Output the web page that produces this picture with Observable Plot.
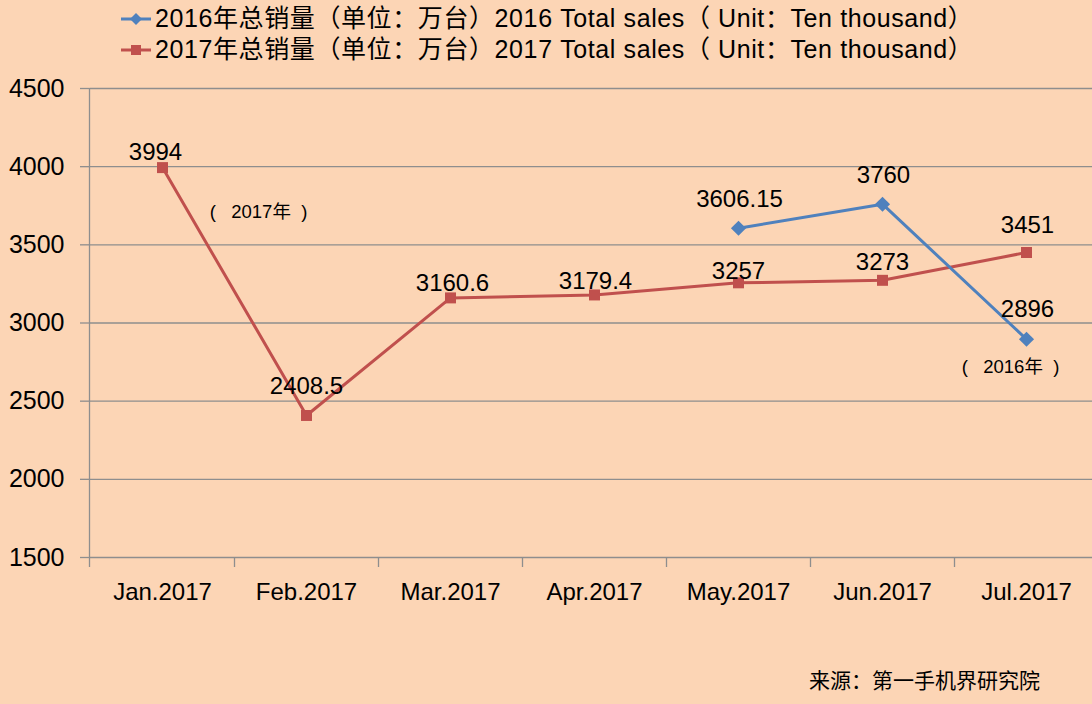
<!DOCTYPE html>
<html>
<head>
<meta charset="utf-8">
<script src="https://cdn.jsdelivr.net/npm/d3@7"></script>
<script src="https://cdn.jsdelivr.net/npm/@observablehq/plot@0.6"></script>
<style>
  html, body { margin: 0; padding: 0; background: #FCD5B5; }
  #wrap { position: relative; width: 1092px; height: 704px; overflow: hidden; background: #FCD5B5;
          font-family: "Liberation Sans", "Noto Sans CJK SC", sans-serif; color: #000; }
  #legend { position: absolute; left: 120px; top: 3px; font-size: 25px; line-height: 31px; letter-spacing: 0.6px; }
  .row { display: flex; align-items: center; white-space: nowrap; }
  .row svg { margin-right: 3px; }
  #caption { position: absolute; right: 52px; top: 664px; font-size: 21px; font-family: "Noto Sans CJK SC", sans-serif; }
  #chart { position: absolute; left: 0; top: 0; }
</style>
</head>
<body>
<div id="wrap">
  <div id="chart"></div>
  <div id="legend"></div>
  <div id="caption"></div>
</div>
<script>
// ---- data ----
const months = ["Jan.2017", "Feb.2017", "Mar.2017", "Apr.2017", "May.2017", "Jun.2017", "Jul.2017"];
const sales2017 = [3994, 2408.5, 3160.6, 3179.4, 3257, 3273, 3451];
const months2016 = ["May.2017", "Jun.2017", "Jul.2017"];
const sales2016 = [3606.15, 3760, 2896];
const yTicks = [1500, 2000, 2500, 3000, 3500, 4000, 4500];
const seriesNames = [
  "2016年总销量（单位：万台）2016 Total sales（ Unit：Ten thousand）",
  "2017年总销量（单位：万台）2017 Total sales（ Unit：Ten thousand）"
];
const annotationText = ["(   2017年  )", "(   2016年  )"];
const annotationMonth = ["Feb.2017", "Jul.2017"];
const annotationValue = [3707, 2715];
const captionText = "来源：第一手机界研究院";

// ---- styling / layout (not data) ----
const blue = "#4F81BD", red = "#C0504D", grid = "#8E8E8E";
const font = "'Liberation Sans', 'Noto Sans CJK SC', sans-serif";

const d2017 = months.map((m, i) => ({month: m, value: sales2017[i]}));
const d2016 = months2016.map((m, i) => ({month: m, value: sales2016[i]}));
const ann = annotationText.map((t, i) => ({text: t, month: annotationMonth[i], value: annotationValue[i]}));

// per-label nudges (pixels)
const dy2017 = [-15, -29, -15, -14, -12, -18, -27];
const dx2017 = [-7, 0, 2, 1, 0, 0, 1];
const dy2016 = [-29, -29, -30];
const annDx = [-48, -16];

const labelMarks = [];
d2017.forEach((d, i) => labelMarks.push(
  Plot.text([d], {x: "month", y: "value", text: d => String(d.value), dy: dy2017[i], dx: dx2017[i],
    fontSize: 24, fill: "#000", fontFamily: font})));
d2016.forEach((d, i) => labelMarks.push(
  Plot.text([d], {x: "month", y: "value", text: d => String(d.value), dy: dy2016[i], dx: 1,
    fontSize: 24, fill: "#000", fontFamily: font})));
ann.forEach((d, i) => labelMarks.push(
  Plot.text([d], {x: "month", y: "value", text: "text", dx: annDx[i],
    fontSize: 18.5, fill: "#000", fontFamily: font})));

const chart = Plot.plot({
  width: 1092,
  height: 704,
  marginTop: 88,
  marginBottom: 147,
  marginLeft: 90,
  marginRight: 0,
  style: {background: "transparent", fontFamily: font, fontSize: "24px", overflow: "visible"},
  x: {type: "point", domain: months, range: [162, 1026], padding: 0, label: null},
  y: {domain: [1500, 4500], label: null},
  marks: [
    Plot.ruleY(yTicks, {stroke: grid, strokeWidth: 1.3}),
    Plot.ruleX(months.slice(1), {x: d => d, y1: 1500, y2: 1500, insetBottom: -10, dx: -72, stroke: grid, strokeWidth: 1.3}),
    Plot.ruleX(months.slice(0, 1), {x: d => d, y1: 4500, y2: 1500, insetBottom: -10, dx: -73, stroke: grid, strokeWidth: 1.3}),
    Plot.axisY({ticks: yTicks, tickSize: 10, tickPadding: 16, stroke: grid, strokeWidth: 1.3,
      fontSize: 25, fill: "#000", tickFormat: d => String(d), label: null}),
    Plot.axisX({tickSize: 0, tickPadding: 25, fontSize: 24, fill: "#000", label: null}),
    Plot.line(d2017, {x: "month", y: "value", stroke: red, strokeWidth: 3}),
    Plot.line(d2016, {x: "month", y: "value", stroke: blue, strokeWidth: 3}),
    Plot.dot(d2017, {x: "month", y: "value", symbol: "square", r: 6.2, fill: red, stroke: "none"}),
    Plot.dot(d2016, {x: "month", y: "value", symbol: "diamond2", r: 6.8, fill: blue, stroke: "none"}),
    ...labelMarks
  ]
});
document.getElementById("chart").appendChild(chart);

// legend
const legend = document.getElementById("legend");
[[blue, "diamond"], [red, "square"]].forEach(([c, s], i) => {
  const row = document.createElement("div");
  row.className = "row";
  const sym = s === "diamond"
    ? `<polygon points="16,3 22,9 16,15 10,9" fill="${c}"/>`
    : `<rect x="11" y="4" width="10" height="10" fill="${c}"/>`;
  row.innerHTML = `<svg width="32" height="18"><line x1="1" x2="31" y1="9" y2="9" stroke="${c}" stroke-width="3"/>${sym}</svg><span>${seriesNames[i]}</span>`;
  legend.appendChild(row);
});
document.getElementById("caption").textContent = captionText;
</script>
</body>
</html>
